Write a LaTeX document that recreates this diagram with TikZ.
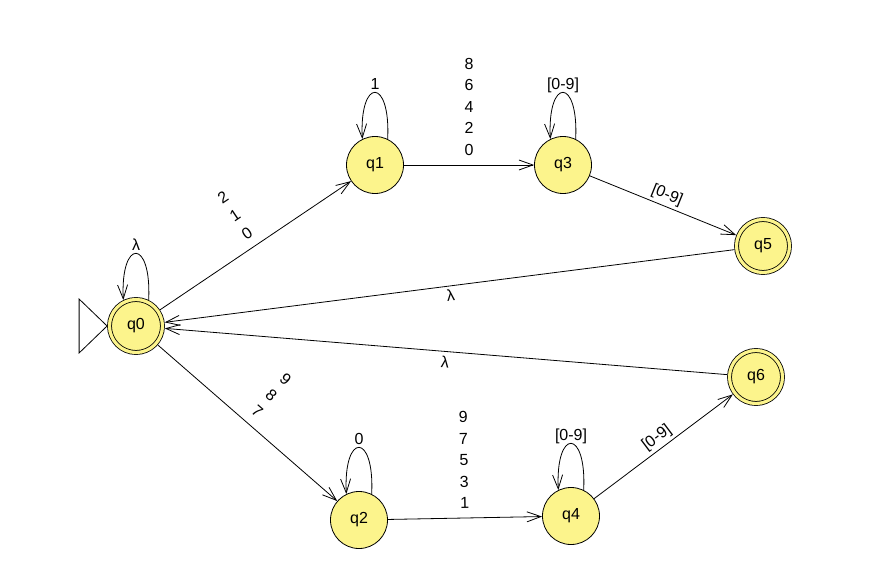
\documentclass[tikz,border=0pt]{standalone}
\usepackage{fontspec}
\setmainfont{Liberation Sans}
\usetikzlibrary{arrows.meta}
\definecolor{qfill}{RGB}{252,244,140}
\newcommand{\lfont}{\fontsize{16}{21.5}\selectfont}
\begin{document}
\begin{tikzpicture}[x=1pt,y=-1pt,
  state/.style={circle, draw, line width=0.8pt, fill=qfill, minimum size=57pt, inner sep=0pt, font=\lfont},
  accept/.style={state, minimum size=53pt, double=qfill, double distance=3.2pt, outer sep=2.4pt},
  arr/.style={line width=0.8pt, -{Straight Barb[length=14pt,width=10pt]}},
  lab/.style={font=\lfont, align=center, inner sep=3pt},
  looplab/.style={lab, text depth=0pt},
  stacklab/.style={lab, inner ysep=9pt},
  loopup/.style={arr}
]
\fill[white] (0,0) rectangle (885,567);
\useasboundingbox (0,0) rectangle (885,567);

\node[accept] (q0) at (136,326) {q0};
\node[state] (q1) at (375,165) {q1};
\node[state] (q3) at (563,165) {q3};
\node[accept] (q5) at (763,246) {q5};
\node[accept] (q6) at (756,377) {q6};
\node[state] (q2) at (359,520) {q2};
\node[state] (q4) at (571,516) {q4};

% initial marker
\draw[line width=0.8pt] (q0.west) -- ++(-28,-27) -- ++(0,54) -- cycle;

% loops
\draw[loopup] (q0.64) .. controls +(3,-62) and +(-3,-62) .. node[looplab,above] {λ} (q0.116);
\draw[loopup] (q1.64) .. controls +(3,-62) and +(-3,-62) .. node[looplab,above] {1} (q1.116);
\draw[loopup] (q3.64) .. controls +(3,-62) and +(-3,-62) .. node[looplab,above] {[0-9]} (q3.116);
\draw[loopup] (q2.64) .. controls +(3,-62) and +(-3,-62) .. node[looplab,above] {0} (q2.116);
\draw[loopup] (q4.64) .. controls +(3,-62) and +(-3,-62) .. node[looplab,above] {[0-9]} (q4.116);

% edges
\draw[arr] (q0) -- node[stacklab, sloped, above] {2\\1\\0} (q1);
\draw[arr] (q0) -- node[stacklab, sloped, above] {9\\8\\7} (q2);
\draw[arr] (q1) -- node[stacklab, above] {8\\6\\4\\2\\0} (q3);
\draw[arr] (q2) -- node[stacklab, sloped, above] {9\\7\\5\\3\\1} (q4);
\draw[arr] (q3) -- node[lab, sloped, above] {[0-9]} (q5);
\draw[arr] (q4) -- node[lab, sloped, above] {[0-9]} (q6);
\draw[arr] (q5) -- node[lab, sloped, below] {λ} (q0);
\draw[arr] (q6) -- node[lab, sloped, below, inner ysep=4.5pt] {λ} (q0);
\end{tikzpicture}
\end{document}
